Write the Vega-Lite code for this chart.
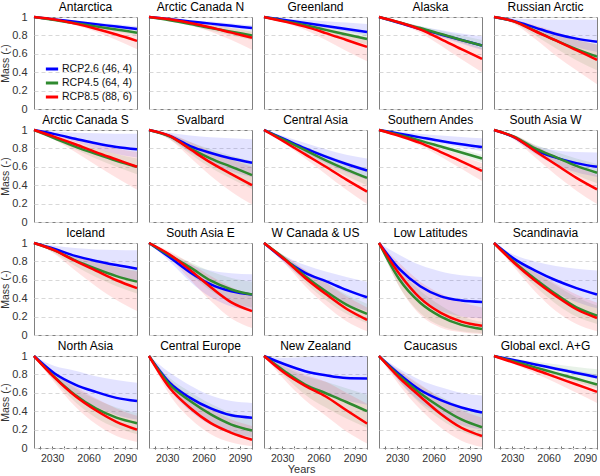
{
"$schema": "https://vega.github.io/schema/vega-lite/v6.json",
"padding": {"left": 0, "right": 0, "top": 0, "bottom": 0},
"title": {"text": "Years", "orient": "bottom", "anchor": "middle", "fontSize": 11, "fontWeight": "normal", "color": "#333", "font": "Liberation Sans", "offset": 0},
"data": {"values": [
{"r":"Antarctica","s":"RCP2.6 (46, 4)","y":2015,"m":1,"l":1,"h":1},
{"r":"Antarctica","s":"RCP2.6 (46, 4)","y":2032,"m":0.974,"l":0.97,"h":0.98},
{"r":"Antarctica","s":"RCP2.6 (46, 4)","y":2049,"m":0.948,"l":0.94,"h":0.96},
{"r":"Antarctica","s":"RCP2.6 (46, 4)","y":2066,"m":0.922,"l":0.91,"h":0.94},
{"r":"Antarctica","s":"RCP2.6 (46, 4)","y":2083,"m":0.896,"l":0.88,"h":0.92},
{"r":"Antarctica","s":"RCP2.6 (46, 4)","y":2100,"m":0.87,"l":0.85,"h":0.90},
{"r":"Antarctica","s":"RCP4.5 (64, 4)","y":2015,"m":1,"l":1,"h":1},
{"r":"Antarctica","s":"RCP4.5 (64, 4)","y":2032,"m":0.966,"l":0.96,"h":0.97},
{"r":"Antarctica","s":"RCP4.5 (64, 4)","y":2049,"m":0.932,"l":0.92,"h":0.94},
{"r":"Antarctica","s":"RCP4.5 (64, 4)","y":2066,"m":0.898,"l":0.88,"h":0.91},
{"r":"Antarctica","s":"RCP4.5 (64, 4)","y":2083,"m":0.864,"l":0.84,"h":0.89},
{"r":"Antarctica","s":"RCP4.5 (64, 4)","y":2100,"m":0.83,"l":0.80,"h":0.86},
{"r":"Antarctica","s":"RCP8.5 (88, 6)","y":2015,"m":1,"l":1,"h":1},
{"r":"Antarctica","s":"RCP8.5 (88, 6)","y":2032,"m":0.973,"l":0.965,"h":0.98},
{"r":"Antarctica","s":"RCP8.5 (88, 6)","y":2049,"m":0.928,"l":0.91,"h":0.945},
{"r":"Antarctica","s":"RCP8.5 (88, 6)","y":2066,"m":0.873,"l":0.84,"h":0.905},
{"r":"Antarctica","s":"RCP8.5 (88, 6)","y":2083,"m":0.81,"l":0.75,"h":0.86},
{"r":"Antarctica","s":"RCP8.5 (88, 6)","y":2100,"m":0.74,"l":0.65,"h":0.81},

{"r":"Arctic Canada N","s":"RCP2.6 (46, 4)","y":2015,"m":1,"l":1,"h":1},
{"r":"Arctic Canada N","s":"RCP2.6 (46, 4)","y":2032,"m":0.976,"l":0.97,"h":0.985},
{"r":"Arctic Canada N","s":"RCP2.6 (46, 4)","y":2049,"m":0.952,"l":0.94,"h":0.965},
{"r":"Arctic Canada N","s":"RCP2.6 (46, 4)","y":2066,"m":0.928,"l":0.91,"h":0.95},
{"r":"Arctic Canada N","s":"RCP2.6 (46, 4)","y":2083,"m":0.904,"l":0.88,"h":0.93},
{"r":"Arctic Canada N","s":"RCP2.6 (46, 4)","y":2100,"m":0.88,"l":0.85,"h":0.91},
{"r":"Arctic Canada N","s":"RCP4.5 (64, 4)","y":2015,"m":1,"l":1,"h":1},
{"r":"Arctic Canada N","s":"RCP4.5 (64, 4)","y":2032,"m":0.965,"l":0.955,"h":0.975},
{"r":"Arctic Canada N","s":"RCP4.5 (64, 4)","y":2049,"m":0.925,"l":0.905,"h":0.945},
{"r":"Arctic Canada N","s":"RCP4.5 (64, 4)","y":2066,"m":0.88,"l":0.85,"h":0.915},
{"r":"Arctic Canada N","s":"RCP4.5 (64, 4)","y":2083,"m":0.84,"l":0.80,"h":0.88},
{"r":"Arctic Canada N","s":"RCP4.5 (64, 4)","y":2100,"m":0.80,"l":0.75,"h":0.85},
{"r":"Arctic Canada N","s":"RCP8.5 (88, 6)","y":2015,"m":1,"l":1,"h":1},
{"r":"Arctic Canada N","s":"RCP8.5 (88, 6)","y":2032,"m":0.975,"l":0.965,"h":0.985},
{"r":"Arctic Canada N","s":"RCP8.5 (88, 6)","y":2049,"m":0.935,"l":0.91,"h":0.955},
{"r":"Arctic Canada N","s":"RCP8.5 (88, 6)","y":2066,"m":0.885,"l":0.84,"h":0.92},
{"r":"Arctic Canada N","s":"RCP8.5 (88, 6)","y":2083,"m":0.83,"l":0.75,"h":0.88},
{"r":"Arctic Canada N","s":"RCP8.5 (88, 6)","y":2100,"m":0.775,"l":0.645,"h":0.84},

{"r":"Greenland","s":"RCP2.6 (46, 4)","y":2015,"m":1,"l":1,"h":1},
{"r":"Greenland","s":"RCP2.6 (46, 4)","y":2032,"m":0.967,"l":0.96,"h":0.985},
{"r":"Greenland","s":"RCP2.6 (46, 4)","y":2049,"m":0.935,"l":0.92,"h":0.97},
{"r":"Greenland","s":"RCP2.6 (46, 4)","y":2066,"m":0.902,"l":0.88,"h":0.955},
{"r":"Greenland","s":"RCP2.6 (46, 4)","y":2083,"m":0.87,"l":0.84,"h":0.94},
{"r":"Greenland","s":"RCP2.6 (46, 4)","y":2100,"m":0.837,"l":0.80,"h":0.925},
{"r":"Greenland","s":"RCP4.5 (64, 4)","y":2015,"m":1,"l":1,"h":1},
{"r":"Greenland","s":"RCP4.5 (64, 4)","y":2032,"m":0.955,"l":0.945,"h":0.965},
{"r":"Greenland","s":"RCP4.5 (64, 4)","y":2049,"m":0.91,"l":0.885,"h":0.93},
{"r":"Greenland","s":"RCP4.5 (64, 4)","y":2066,"m":0.86,"l":0.825,"h":0.895},
{"r":"Greenland","s":"RCP4.5 (64, 4)","y":2083,"m":0.81,"l":0.76,"h":0.86},
{"r":"Greenland","s":"RCP4.5 (64, 4)","y":2100,"m":0.76,"l":0.70,"h":0.82},
{"r":"Greenland","s":"RCP8.5 (88, 6)","y":2015,"m":1,"l":1,"h":1},
{"r":"Greenland","s":"RCP8.5 (88, 6)","y":2032,"m":0.95,"l":0.935,"h":0.965},
{"r":"Greenland","s":"RCP8.5 (88, 6)","y":2049,"m":0.895,"l":0.86,"h":0.925},
{"r":"Greenland","s":"RCP8.5 (88, 6)","y":2066,"m":0.825,"l":0.75,"h":0.88},
{"r":"Greenland","s":"RCP8.5 (88, 6)","y":2083,"m":0.75,"l":0.63,"h":0.83},
{"r":"Greenland","s":"RCP8.5 (88, 6)","y":2100,"m":0.675,"l":0.52,"h":0.78},

{"r":"Alaska","s":"RCP2.6 (46, 4)","y":2015,"m":1,"l":1,"h":1},
{"r":"Alaska","s":"RCP2.6 (46, 4)","y":2032,"m":0.935,"l":0.925,"h":0.95},
{"r":"Alaska","s":"RCP2.6 (46, 4)","y":2049,"m":0.87,"l":0.85,"h":0.90},
{"r":"Alaska","s":"RCP2.6 (46, 4)","y":2066,"m":0.81,"l":0.78,"h":0.86},
{"r":"Alaska","s":"RCP2.6 (46, 4)","y":2083,"m":0.75,"l":0.71,"h":0.82},
{"r":"Alaska","s":"RCP2.6 (46, 4)","y":2100,"m":0.69,"l":0.64,"h":0.79},
{"r":"Alaska","s":"RCP4.5 (64, 4)","y":2015,"m":1,"l":1,"h":1},
{"r":"Alaska","s":"RCP4.5 (64, 4)","y":2032,"m":0.94,"l":0.93,"h":0.95},
{"r":"Alaska","s":"RCP4.5 (64, 4)","y":2049,"m":0.88,"l":0.86,"h":0.90},
{"r":"Alaska","s":"RCP4.5 (64, 4)","y":2066,"m":0.815,"l":0.79,"h":0.85},
{"r":"Alaska","s":"RCP4.5 (64, 4)","y":2083,"m":0.75,"l":0.72,"h":0.80},
{"r":"Alaska","s":"RCP4.5 (64, 4)","y":2100,"m":0.69,"l":0.65,"h":0.75},
{"r":"Alaska","s":"RCP8.5 (88, 6)","y":2015,"m":1,"l":1,"h":1},
{"r":"Alaska","s":"RCP8.5 (88, 6)","y":2032,"m":0.94,"l":0.925,"h":0.955},
{"r":"Alaska","s":"RCP8.5 (88, 6)","y":2049,"m":0.865,"l":0.83,"h":0.895},
{"r":"Alaska","s":"RCP8.5 (88, 6)","y":2066,"m":0.76,"l":0.69,"h":0.82},
{"r":"Alaska","s":"RCP8.5 (88, 6)","y":2083,"m":0.65,"l":0.54,"h":0.74},
{"r":"Alaska","s":"RCP8.5 (88, 6)","y":2100,"m":0.545,"l":0.40,"h":0.66},

{"r":"Russian Arctic","s":"RCP2.6 (46, 4)","y":2015,"m":1,"l":1,"h":1},
{"r":"Russian Arctic","s":"RCP2.6 (46, 4)","y":2032,"m":0.955,"l":0.94,"h":0.985},
{"r":"Russian Arctic","s":"RCP2.6 (46, 4)","y":2049,"m":0.885,"l":0.84,"h":0.975},
{"r":"Russian Arctic","s":"RCP2.6 (46, 4)","y":2066,"m":0.815,"l":0.74,"h":0.97},
{"r":"Russian Arctic","s":"RCP2.6 (46, 4)","y":2083,"m":0.765,"l":0.67,"h":0.97},
{"r":"Russian Arctic","s":"RCP2.6 (46, 4)","y":2100,"m":0.73,"l":0.62,"h":0.97},
{"r":"Russian Arctic","s":"RCP4.5 (64, 4)","y":2015,"m":1,"l":1,"h":1},
{"r":"Russian Arctic","s":"RCP4.5 (64, 4)","y":2032,"m":0.95,"l":0.93,"h":0.965},
{"r":"Russian Arctic","s":"RCP4.5 (64, 4)","y":2049,"m":0.85,"l":0.80,"h":0.90},
{"r":"Russian Arctic","s":"RCP4.5 (64, 4)","y":2066,"m":0.745,"l":0.66,"h":0.82},
{"r":"Russian Arctic","s":"RCP4.5 (64, 4)","y":2083,"m":0.65,"l":0.53,"h":0.75},
{"r":"Russian Arctic","s":"RCP4.5 (64, 4)","y":2100,"m":0.57,"l":0.42,"h":0.70},
{"r":"Russian Arctic","s":"RCP8.5 (88, 6)","y":2015,"m":1,"l":1,"h":1},
{"r":"Russian Arctic","s":"RCP8.5 (88, 6)","y":2032,"m":0.95,"l":0.92,"h":0.97},
{"r":"Russian Arctic","s":"RCP8.5 (88, 6)","y":2049,"m":0.845,"l":0.76,"h":0.91},
{"r":"Russian Arctic","s":"RCP8.5 (88, 6)","y":2066,"m":0.745,"l":0.58,"h":0.84},
{"r":"Russian Arctic","s":"RCP8.5 (88, 6)","y":2083,"m":0.64,"l":0.42,"h":0.76},
{"r":"Russian Arctic","s":"RCP8.5 (88, 6)","y":2100,"m":0.535,"l":0.27,"h":0.70},

{"r":"Arctic Canada S","s":"RCP2.6 (46, 4)","y":2015,"m":1,"l":1,"h":1},
{"r":"Arctic Canada S","s":"RCP2.6 (46, 4)","y":2032,"m":0.955,"l":0.94,"h":0.985},
{"r":"Arctic Canada S","s":"RCP2.6 (46, 4)","y":2049,"m":0.905,"l":0.87,"h":0.97},
{"r":"Arctic Canada S","s":"RCP2.6 (46, 4)","y":2066,"m":0.855,"l":0.80,"h":0.965},
{"r":"Arctic Canada S","s":"RCP2.6 (46, 4)","y":2083,"m":0.815,"l":0.74,"h":0.96},
{"r":"Arctic Canada S","s":"RCP2.6 (46, 4)","y":2100,"m":0.79,"l":0.70,"h":0.96},
{"r":"Arctic Canada S","s":"RCP4.5 (64, 4)","y":2015,"m":1,"l":1,"h":1},
{"r":"Arctic Canada S","s":"RCP4.5 (64, 4)","y":2032,"m":0.91,"l":0.895,"h":0.93},
{"r":"Arctic Canada S","s":"RCP4.5 (64, 4)","y":2049,"m":0.82,"l":0.79,"h":0.86},
{"r":"Arctic Canada S","s":"RCP4.5 (64, 4)","y":2066,"m":0.74,"l":0.69,"h":0.80},
{"r":"Arctic Canada S","s":"RCP4.5 (64, 4)","y":2083,"m":0.665,"l":0.60,"h":0.74},
{"r":"Arctic Canada S","s":"RCP4.5 (64, 4)","y":2100,"m":0.60,"l":0.52,"h":0.69},
{"r":"Arctic Canada S","s":"RCP8.5 (88, 6)","y":2015,"m":1,"l":1,"h":1},
{"r":"Arctic Canada S","s":"RCP8.5 (88, 6)","y":2032,"m":0.925,"l":0.89,"h":0.95},
{"r":"Arctic Canada S","s":"RCP8.5 (88, 6)","y":2049,"m":0.845,"l":0.76,"h":0.90},
{"r":"Arctic Canada S","s":"RCP8.5 (88, 6)","y":2066,"m":0.76,"l":0.62,"h":0.85},
{"r":"Arctic Canada S","s":"RCP8.5 (88, 6)","y":2083,"m":0.68,"l":0.48,"h":0.80},
{"r":"Arctic Canada S","s":"RCP8.5 (88, 6)","y":2100,"m":0.60,"l":0.35,"h":0.76},

{"r":"Svalbard","s":"RCP2.6 (46, 4)","y":2015,"m":1,"l":1,"h":1},
{"r":"Svalbard","s":"RCP2.6 (46, 4)","y":2032,"m":0.935,"l":0.91,"h":0.97},
{"r":"Svalbard","s":"RCP2.6 (46, 4)","y":2049,"m":0.825,"l":0.76,"h":0.94},
{"r":"Svalbard","s":"RCP2.6 (46, 4)","y":2066,"m":0.75,"l":0.64,"h":0.92},
{"r":"Svalbard","s":"RCP2.6 (46, 4)","y":2083,"m":0.69,"l":0.55,"h":0.91},
{"r":"Svalbard","s":"RCP2.6 (46, 4)","y":2100,"m":0.645,"l":0.49,"h":0.90},
{"r":"Svalbard","s":"RCP4.5 (64, 4)","y":2015,"m":1,"l":1,"h":1},
{"r":"Svalbard","s":"RCP4.5 (64, 4)","y":2032,"m":0.93,"l":0.90,"h":0.955},
{"r":"Svalbard","s":"RCP4.5 (64, 4)","y":2049,"m":0.80,"l":0.74,"h":0.87},
{"r":"Svalbard","s":"RCP4.5 (64, 4)","y":2066,"m":0.69,"l":0.59,"h":0.79},
{"r":"Svalbard","s":"RCP4.5 (64, 4)","y":2083,"m":0.60,"l":0.47,"h":0.72},
{"r":"Svalbard","s":"RCP4.5 (64, 4)","y":2100,"m":0.51,"l":0.36,"h":0.66},
{"r":"Svalbard","s":"RCP8.5 (88, 6)","y":2015,"m":1,"l":1,"h":1},
{"r":"Svalbard","s":"RCP8.5 (88, 6)","y":2032,"m":0.935,"l":0.90,"h":0.96},
{"r":"Svalbard","s":"RCP8.5 (88, 6)","y":2049,"m":0.79,"l":0.70,"h":0.87},
{"r":"Svalbard","s":"RCP8.5 (88, 6)","y":2066,"m":0.645,"l":0.50,"h":0.77},
{"r":"Svalbard","s":"RCP8.5 (88, 6)","y":2083,"m":0.52,"l":0.33,"h":0.68},
{"r":"Svalbard","s":"RCP8.5 (88, 6)","y":2100,"m":0.40,"l":0.19,"h":0.60},

{"r":"Central Asia","s":"RCP2.6 (46, 4)","y":2015,"m":1,"l":1,"h":1},
{"r":"Central Asia","s":"RCP2.6 (46, 4)","y":2032,"m":0.90,"l":0.88,"h":0.93},
{"r":"Central Asia","s":"RCP2.6 (46, 4)","y":2049,"m":0.80,"l":0.75,"h":0.86},
{"r":"Central Asia","s":"RCP2.6 (46, 4)","y":2066,"m":0.71,"l":0.64,"h":0.79},
{"r":"Central Asia","s":"RCP2.6 (46, 4)","y":2083,"m":0.63,"l":0.54,"h":0.73},
{"r":"Central Asia","s":"RCP2.6 (46, 4)","y":2100,"m":0.56,"l":0.46,"h":0.69},
{"r":"Central Asia","s":"RCP4.5 (64, 4)","y":2015,"m":1,"l":1,"h":1},
{"r":"Central Asia","s":"RCP4.5 (64, 4)","y":2032,"m":0.89,"l":0.87,"h":0.91},
{"r":"Central Asia","s":"RCP4.5 (64, 4)","y":2049,"m":0.78,"l":0.74,"h":0.82},
{"r":"Central Asia","s":"RCP4.5 (64, 4)","y":2066,"m":0.67,"l":0.61,"h":0.73},
{"r":"Central Asia","s":"RCP4.5 (64, 4)","y":2083,"m":0.57,"l":0.50,"h":0.65},
{"r":"Central Asia","s":"RCP4.5 (64, 4)","y":2100,"m":0.48,"l":0.40,"h":0.58},
{"r":"Central Asia","s":"RCP8.5 (88, 6)","y":2015,"m":1,"l":1,"h":1},
{"r":"Central Asia","s":"RCP8.5 (88, 6)","y":2032,"m":0.87,"l":0.85,"h":0.90},
{"r":"Central Asia","s":"RCP8.5 (88, 6)","y":2049,"m":0.735,"l":0.69,"h":0.79},
{"r":"Central Asia","s":"RCP8.5 (88, 6)","y":2066,"m":0.60,"l":0.52,"h":0.68},
{"r":"Central Asia","s":"RCP8.5 (88, 6)","y":2083,"m":0.46,"l":0.35,"h":0.57},
{"r":"Central Asia","s":"RCP8.5 (88, 6)","y":2100,"m":0.33,"l":0.195,"h":0.47},

{"r":"Southern Andes","s":"RCP2.6 (46, 4)","y":2015,"m":1,"l":1,"h":1},
{"r":"Southern Andes","s":"RCP2.6 (46, 4)","y":2032,"m":0.96,"l":0.95,"h":0.98},
{"r":"Southern Andes","s":"RCP2.6 (46, 4)","y":2049,"m":0.92,"l":0.90,"h":0.96},
{"r":"Southern Andes","s":"RCP2.6 (46, 4)","y":2066,"m":0.88,"l":0.85,"h":0.94},
{"r":"Southern Andes","s":"RCP2.6 (46, 4)","y":2083,"m":0.845,"l":0.81,"h":0.925},
{"r":"Southern Andes","s":"RCP2.6 (46, 4)","y":2100,"m":0.815,"l":0.77,"h":0.91},
{"r":"Southern Andes","s":"RCP4.5 (64, 4)","y":2015,"m":1,"l":1,"h":1},
{"r":"Southern Andes","s":"RCP4.5 (64, 4)","y":2032,"m":0.945,"l":0.935,"h":0.955},
{"r":"Southern Andes","s":"RCP4.5 (64, 4)","y":2049,"m":0.885,"l":0.86,"h":0.905},
{"r":"Southern Andes","s":"RCP4.5 (64, 4)","y":2066,"m":0.82,"l":0.79,"h":0.85},
{"r":"Southern Andes","s":"RCP4.5 (64, 4)","y":2083,"m":0.755,"l":0.72,"h":0.79},
{"r":"Southern Andes","s":"RCP4.5 (64, 4)","y":2100,"m":0.69,"l":0.65,"h":0.73},
{"r":"Southern Andes","s":"RCP8.5 (88, 6)","y":2015,"m":1,"l":1,"h":1},
{"r":"Southern Andes","s":"RCP8.5 (88, 6)","y":2032,"m":0.935,"l":0.925,"h":0.95},
{"r":"Southern Andes","s":"RCP8.5 (88, 6)","y":2049,"m":0.86,"l":0.83,"h":0.885},
{"r":"Southern Andes","s":"RCP8.5 (88, 6)","y":2066,"m":0.76,"l":0.71,"h":0.80},
{"r":"Southern Andes","s":"RCP8.5 (88, 6)","y":2083,"m":0.66,"l":0.58,"h":0.72},
{"r":"Southern Andes","s":"RCP8.5 (88, 6)","y":2100,"m":0.555,"l":0.445,"h":0.64},

{"r":"South Asia W","s":"RCP2.6 (46, 4)","y":2015,"m":1,"l":1,"h":1},
{"r":"South Asia W","s":"RCP2.6 (46, 4)","y":2032,"m":0.92,"l":0.90,"h":0.94},
{"r":"South Asia W","s":"RCP2.6 (46, 4)","y":2049,"m":0.78,"l":0.74,"h":0.83},
{"r":"South Asia W","s":"RCP2.6 (46, 4)","y":2066,"m":0.70,"l":0.62,"h":0.78},
{"r":"South Asia W","s":"RCP2.6 (46, 4)","y":2083,"m":0.64,"l":0.54,"h":0.76},
{"r":"South Asia W","s":"RCP2.6 (46, 4)","y":2100,"m":0.60,"l":0.49,"h":0.755},
{"r":"South Asia W","s":"RCP4.5 (64, 4)","y":2015,"m":1,"l":1,"h":1},
{"r":"South Asia W","s":"RCP4.5 (64, 4)","y":2032,"m":0.925,"l":0.90,"h":0.94},
{"r":"South Asia W","s":"RCP4.5 (64, 4)","y":2049,"m":0.80,"l":0.76,"h":0.84},
{"r":"South Asia W","s":"RCP4.5 (64, 4)","y":2066,"m":0.705,"l":0.63,"h":0.76},
{"r":"South Asia W","s":"RCP4.5 (64, 4)","y":2083,"m":0.61,"l":0.51,"h":0.69},
{"r":"South Asia W","s":"RCP4.5 (64, 4)","y":2100,"m":0.535,"l":0.42,"h":0.63},
{"r":"South Asia W","s":"RCP8.5 (88, 6)","y":2015,"m":1,"l":1,"h":1},
{"r":"South Asia W","s":"RCP8.5 (88, 6)","y":2032,"m":0.92,"l":0.89,"h":0.945},
{"r":"South Asia W","s":"RCP8.5 (88, 6)","y":2049,"m":0.77,"l":0.70,"h":0.83},
{"r":"South Asia W","s":"RCP8.5 (88, 6)","y":2066,"m":0.625,"l":0.51,"h":0.72},
{"r":"South Asia W","s":"RCP8.5 (88, 6)","y":2083,"m":0.48,"l":0.34,"h":0.61},
{"r":"South Asia W","s":"RCP8.5 (88, 6)","y":2100,"m":0.355,"l":0.195,"h":0.51},

{"r":"Iceland","s":"RCP2.6 (46, 4)","y":2015,"m":1,"l":1,"h":1},
{"r":"Iceland","s":"RCP2.6 (46, 4)","y":2032,"m":0.935,"l":0.91,"h":0.97},
{"r":"Iceland","s":"RCP2.6 (46, 4)","y":2049,"m":0.86,"l":0.80,"h":0.945},
{"r":"Iceland","s":"RCP2.6 (46, 4)","y":2066,"m":0.805,"l":0.71,"h":0.93},
{"r":"Iceland","s":"RCP2.6 (46, 4)","y":2083,"m":0.76,"l":0.64,"h":0.925},
{"r":"Iceland","s":"RCP2.6 (46, 4)","y":2100,"m":0.72,"l":0.59,"h":0.92},
{"r":"Iceland","s":"RCP4.5 (64, 4)","y":2015,"m":1,"l":1,"h":1},
{"r":"Iceland","s":"RCP4.5 (64, 4)","y":2032,"m":0.92,"l":0.89,"h":0.94},
{"r":"Iceland","s":"RCP4.5 (64, 4)","y":2049,"m":0.81,"l":0.75,"h":0.86},
{"r":"Iceland","s":"RCP4.5 (64, 4)","y":2066,"m":0.72,"l":0.63,"h":0.79},
{"r":"Iceland","s":"RCP4.5 (64, 4)","y":2083,"m":0.64,"l":0.53,"h":0.74},
{"r":"Iceland","s":"RCP4.5 (64, 4)","y":2100,"m":0.58,"l":0.45,"h":0.70},
{"r":"Iceland","s":"RCP8.5 (88, 6)","y":2015,"m":1,"l":1,"h":1},
{"r":"Iceland","s":"RCP8.5 (88, 6)","y":2032,"m":0.92,"l":0.88,"h":0.95},
{"r":"Iceland","s":"RCP8.5 (88, 6)","y":2049,"m":0.805,"l":0.70,"h":0.87},
{"r":"Iceland","s":"RCP8.5 (88, 6)","y":2066,"m":0.70,"l":0.53,"h":0.80},
{"r":"Iceland","s":"RCP8.5 (88, 6)","y":2083,"m":0.595,"l":0.38,"h":0.74},
{"r":"Iceland","s":"RCP8.5 (88, 6)","y":2100,"m":0.51,"l":0.26,"h":0.69},

{"r":"South Asia E","s":"RCP2.6 (46, 4)","y":2015,"m":1,"l":1,"h":1},
{"r":"South Asia E","s":"RCP2.6 (46, 4)","y":2032,"m":0.845,"l":0.80,"h":0.88},
{"r":"South Asia E","s":"RCP2.6 (46, 4)","y":2049,"m":0.68,"l":0.58,"h":0.77},
{"r":"South Asia E","s":"RCP2.6 (46, 4)","y":2066,"m":0.55,"l":0.41,"h":0.70},
{"r":"South Asia E","s":"RCP2.6 (46, 4)","y":2083,"m":0.475,"l":0.31,"h":0.67},
{"r":"South Asia E","s":"RCP2.6 (46, 4)","y":2100,"m":0.44,"l":0.26,"h":0.66},
{"r":"South Asia E","s":"RCP4.5 (64, 4)","y":2015,"m":1,"l":1,"h":1},
{"r":"South Asia E","s":"RCP4.5 (64, 4)","y":2032,"m":0.865,"l":0.83,"h":0.89},
{"r":"South Asia E","s":"RCP4.5 (64, 4)","y":2049,"m":0.735,"l":0.66,"h":0.79},
{"r":"South Asia E","s":"RCP4.5 (64, 4)","y":2066,"m":0.59,"l":0.48,"h":0.69},
{"r":"South Asia E","s":"RCP4.5 (64, 4)","y":2083,"m":0.495,"l":0.36,"h":0.62},
{"r":"South Asia E","s":"RCP4.5 (64, 4)","y":2100,"m":0.44,"l":0.30,"h":0.58},
{"r":"South Asia E","s":"RCP8.5 (88, 6)","y":2015,"m":1,"l":1,"h":1},
{"r":"South Asia E","s":"RCP8.5 (88, 6)","y":2032,"m":0.875,"l":0.84,"h":0.91},
{"r":"South Asia E","s":"RCP8.5 (88, 6)","y":2049,"m":0.705,"l":0.60,"h":0.78},
{"r":"South Asia E","s":"RCP8.5 (88, 6)","y":2066,"m":0.52,"l":0.37,"h":0.64},
{"r":"South Asia E","s":"RCP8.5 (88, 6)","y":2083,"m":0.355,"l":0.18,"h":0.52},
{"r":"South Asia E","s":"RCP8.5 (88, 6)","y":2100,"m":0.26,"l":0.075,"h":0.44},

{"r":"W Canada & US","s":"RCP2.6 (46, 4)","y":2015,"m":1,"l":1,"h":1},
{"r":"W Canada & US","s":"RCP2.6 (46, 4)","y":2032,"m":0.82,"l":0.78,"h":0.86},
{"r":"W Canada & US","s":"RCP2.6 (46, 4)","y":2049,"m":0.675,"l":0.60,"h":0.76},
{"r":"W Canada & US","s":"RCP2.6 (46, 4)","y":2066,"m":0.585,"l":0.46,"h":0.69},
{"r":"W Canada & US","s":"RCP2.6 (46, 4)","y":2083,"m":0.49,"l":0.34,"h":0.63},
{"r":"W Canada & US","s":"RCP2.6 (46, 4)","y":2100,"m":0.41,"l":0.26,"h":0.58},
{"r":"W Canada & US","s":"RCP4.5 (64, 4)","y":2015,"m":1,"l":1,"h":1},
{"r":"W Canada & US","s":"RCP4.5 (64, 4)","y":2032,"m":0.83,"l":0.80,"h":0.86},
{"r":"W Canada & US","s":"RCP4.5 (64, 4)","y":2049,"m":0.64,"l":0.57,"h":0.70},
{"r":"W Canada & US","s":"RCP4.5 (64, 4)","y":2066,"m":0.475,"l":0.38,"h":0.57},
{"r":"W Canada & US","s":"RCP4.5 (64, 4)","y":2083,"m":0.33,"l":0.23,"h":0.44},
{"r":"W Canada & US","s":"RCP4.5 (64, 4)","y":2100,"m":0.23,"l":0.13,"h":0.34},
{"r":"W Canada & US","s":"RCP8.5 (88, 6)","y":2015,"m":1,"l":1,"h":1},
{"r":"W Canada & US","s":"RCP8.5 (88, 6)","y":2032,"m":0.82,"l":0.78,"h":0.86},
{"r":"W Canada & US","s":"RCP8.5 (88, 6)","y":2049,"m":0.62,"l":0.53,"h":0.71},
{"r":"W Canada & US","s":"RCP8.5 (88, 6)","y":2066,"m":0.445,"l":0.32,"h":0.57},
{"r":"W Canada & US","s":"RCP8.5 (88, 6)","y":2083,"m":0.285,"l":0.15,"h":0.42},
{"r":"W Canada & US","s":"RCP8.5 (88, 6)","y":2100,"m":0.165,"l":0.04,"h":0.30},

{"r":"Low Latitudes","s":"RCP2.6 (46, 4)","y":2015,"m":1,"l":1,"h":1},
{"r":"Low Latitudes","s":"RCP2.6 (46, 4)","y":2032,"m":0.715,"l":0.60,"h":0.87},
{"r":"Low Latitudes","s":"RCP2.6 (46, 4)","y":2049,"m":0.53,"l":0.38,"h":0.76},
{"r":"Low Latitudes","s":"RCP2.6 (46, 4)","y":2066,"m":0.42,"l":0.26,"h":0.69},
{"r":"Low Latitudes","s":"RCP2.6 (46, 4)","y":2083,"m":0.375,"l":0.20,"h":0.65},
{"r":"Low Latitudes","s":"RCP2.6 (46, 4)","y":2100,"m":0.36,"l":0.18,"h":0.63},
{"r":"Low Latitudes","s":"RCP4.5 (64, 4)","y":2015,"m":1,"l":1,"h":1},
{"r":"Low Latitudes","s":"RCP4.5 (64, 4)","y":2032,"m":0.60,"l":0.52,"h":0.70},
{"r":"Low Latitudes","s":"RCP4.5 (64, 4)","y":2049,"m":0.35,"l":0.24,"h":0.48},
{"r":"Low Latitudes","s":"RCP4.5 (64, 4)","y":2066,"m":0.20,"l":0.10,"h":0.32},
{"r":"Low Latitudes","s":"RCP4.5 (64, 4)","y":2083,"m":0.11,"l":0.04,"h":0.20},
{"r":"Low Latitudes","s":"RCP4.5 (64, 4)","y":2100,"m":0.065,"l":0.02,"h":0.14},
{"r":"Low Latitudes","s":"RCP8.5 (88, 6)","y":2015,"m":1,"l":1,"h":1},
{"r":"Low Latitudes","s":"RCP8.5 (88, 6)","y":2032,"m":0.66,"l":0.52,"h":0.78},
{"r":"Low Latitudes","s":"RCP8.5 (88, 6)","y":2049,"m":0.40,"l":0.22,"h":0.58},
{"r":"Low Latitudes","s":"RCP8.5 (88, 6)","y":2066,"m":0.24,"l":0.08,"h":0.45},
{"r":"Low Latitudes","s":"RCP8.5 (88, 6)","y":2083,"m":0.145,"l":0.03,"h":0.36},
{"r":"Low Latitudes","s":"RCP8.5 (88, 6)","y":2100,"m":0.10,"l":0.01,"h":0.30},

{"r":"Scandinavia","s":"RCP2.6 (46, 4)","y":2015,"m":1,"l":1,"h":1},
{"r":"Scandinavia","s":"RCP2.6 (46, 4)","y":2032,"m":0.825,"l":0.78,"h":0.87},
{"r":"Scandinavia","s":"RCP2.6 (46, 4)","y":2049,"m":0.70,"l":0.60,"h":0.80},
{"r":"Scandinavia","s":"RCP2.6 (46, 4)","y":2066,"m":0.595,"l":0.46,"h":0.75},
{"r":"Scandinavia","s":"RCP2.6 (46, 4)","y":2083,"m":0.51,"l":0.36,"h":0.72},
{"r":"Scandinavia","s":"RCP2.6 (46, 4)","y":2100,"m":0.44,"l":0.29,"h":0.70},
{"r":"Scandinavia","s":"RCP4.5 (64, 4)","y":2015,"m":1,"l":1,"h":1},
{"r":"Scandinavia","s":"RCP4.5 (64, 4)","y":2032,"m":0.79,"l":0.75,"h":0.83},
{"r":"Scandinavia","s":"RCP4.5 (64, 4)","y":2049,"m":0.61,"l":0.53,"h":0.68},
{"r":"Scandinavia","s":"RCP4.5 (64, 4)","y":2066,"m":0.445,"l":0.34,"h":0.54},
{"r":"Scandinavia","s":"RCP4.5 (64, 4)","y":2083,"m":0.30,"l":0.20,"h":0.41},
{"r":"Scandinavia","s":"RCP4.5 (64, 4)","y":2100,"m":0.21,"l":0.12,"h":0.32},
{"r":"Scandinavia","s":"RCP8.5 (88, 6)","y":2015,"m":1,"l":1,"h":1},
{"r":"Scandinavia","s":"RCP8.5 (88, 6)","y":2032,"m":0.78,"l":0.73,"h":0.83},
{"r":"Scandinavia","s":"RCP8.5 (88, 6)","y":2049,"m":0.59,"l":0.47,"h":0.69},
{"r":"Scandinavia","s":"RCP8.5 (88, 6)","y":2066,"m":0.425,"l":0.26,"h":0.56},
{"r":"Scandinavia","s":"RCP8.5 (88, 6)","y":2083,"m":0.28,"l":0.12,"h":0.44},
{"r":"Scandinavia","s":"RCP8.5 (88, 6)","y":2100,"m":0.185,"l":0.04,"h":0.35},

{"r":"North Asia","s":"RCP2.6 (46, 4)","y":2015,"m":1,"l":1,"h":1},
{"r":"North Asia","s":"RCP2.6 (46, 4)","y":2032,"m":0.81,"l":0.76,"h":0.89},
{"r":"North Asia","s":"RCP2.6 (46, 4)","y":2049,"m":0.69,"l":0.58,"h":0.84},
{"r":"North Asia","s":"RCP2.6 (46, 4)","y":2066,"m":0.61,"l":0.45,"h":0.78},
{"r":"North Asia","s":"RCP2.6 (46, 4)","y":2083,"m":0.545,"l":0.36,"h":0.74},
{"r":"North Asia","s":"RCP2.6 (46, 4)","y":2100,"m":0.51,"l":0.31,"h":0.71},
{"r":"North Asia","s":"RCP4.5 (64, 4)","y":2015,"m":1,"l":1,"h":1},
{"r":"North Asia","s":"RCP4.5 (64, 4)","y":2032,"m":0.77,"l":0.73,"h":0.81},
{"r":"North Asia","s":"RCP4.5 (64, 4)","y":2049,"m":0.575,"l":0.50,"h":0.65},
{"r":"North Asia","s":"RCP4.5 (64, 4)","y":2066,"m":0.43,"l":0.33,"h":0.53},
{"r":"North Asia","s":"RCP4.5 (64, 4)","y":2083,"m":0.33,"l":0.22,"h":0.44},
{"r":"North Asia","s":"RCP4.5 (64, 4)","y":2100,"m":0.27,"l":0.15,"h":0.38},
{"r":"North Asia","s":"RCP8.5 (88, 6)","y":2015,"m":1,"l":1,"h":1},
{"r":"North Asia","s":"RCP8.5 (88, 6)","y":2032,"m":0.765,"l":0.71,"h":0.83},
{"r":"North Asia","s":"RCP8.5 (88, 6)","y":2049,"m":0.565,"l":0.45,"h":0.67},
{"r":"North Asia","s":"RCP8.5 (88, 6)","y":2066,"m":0.41,"l":0.26,"h":0.54},
{"r":"North Asia","s":"RCP8.5 (88, 6)","y":2083,"m":0.285,"l":0.13,"h":0.43},
{"r":"North Asia","s":"RCP8.5 (88, 6)","y":2100,"m":0.20,"l":0.065,"h":0.35},

{"r":"Central Europe","s":"RCP2.6 (46, 4)","y":2015,"m":1,"l":1,"h":1},
{"r":"Central Europe","s":"RCP2.6 (46, 4)","y":2032,"m":0.71,"l":0.63,"h":0.82},
{"r":"Central Europe","s":"RCP2.6 (46, 4)","y":2049,"m":0.545,"l":0.40,"h":0.68},
{"r":"Central Europe","s":"RCP2.6 (46, 4)","y":2066,"m":0.43,"l":0.25,"h":0.57},
{"r":"Central Europe","s":"RCP2.6 (46, 4)","y":2083,"m":0.355,"l":0.16,"h":0.51},
{"r":"Central Europe","s":"RCP2.6 (46, 4)","y":2100,"m":0.33,"l":0.12,"h":0.49},
{"r":"Central Europe","s":"RCP4.5 (64, 4)","y":2015,"m":1,"l":1,"h":1},
{"r":"Central Europe","s":"RCP4.5 (64, 4)","y":2032,"m":0.69,"l":0.64,"h":0.76},
{"r":"Central Europe","s":"RCP4.5 (64, 4)","y":2049,"m":0.51,"l":0.42,"h":0.61},
{"r":"Central Europe","s":"RCP4.5 (64, 4)","y":2066,"m":0.365,"l":0.26,"h":0.48},
{"r":"Central Europe","s":"RCP4.5 (64, 4)","y":2083,"m":0.255,"l":0.15,"h":0.38},
{"r":"Central Europe","s":"RCP4.5 (64, 4)","y":2100,"m":0.19,"l":0.09,"h":0.32},
{"r":"Central Europe","s":"RCP8.5 (88, 6)","y":2015,"m":1,"l":1,"h":1},
{"r":"Central Europe","s":"RCP8.5 (88, 6)","y":2032,"m":0.655,"l":0.58,"h":0.74},
{"r":"Central Europe","s":"RCP8.5 (88, 6)","y":2049,"m":0.435,"l":0.32,"h":0.56},
{"r":"Central Europe","s":"RCP8.5 (88, 6)","y":2066,"m":0.27,"l":0.15,"h":0.42},
{"r":"Central Europe","s":"RCP8.5 (88, 6)","y":2083,"m":0.165,"l":0.06,"h":0.31},
{"r":"Central Europe","s":"RCP8.5 (88, 6)","y":2100,"m":0.09,"l":0.02,"h":0.24},

{"r":"New Zealand","s":"RCP2.6 (46, 4)","y":2015,"m":1,"l":1,"h":1},
{"r":"New Zealand","s":"RCP2.6 (46, 4)","y":2032,"m":0.91,"l":0.83,"h":0.98},
{"r":"New Zealand","s":"RCP2.6 (46, 4)","y":2049,"m":0.835,"l":0.70,"h":0.99},
{"r":"New Zealand","s":"RCP2.6 (46, 4)","y":2066,"m":0.79,"l":0.60,"h":1},
{"r":"New Zealand","s":"RCP2.6 (46, 4)","y":2083,"m":0.76,"l":0.52,"h":1},
{"r":"New Zealand","s":"RCP2.6 (46, 4)","y":2100,"m":0.755,"l":0.47,"h":1},
{"r":"New Zealand","s":"RCP4.5 (64, 4)","y":2015,"m":1,"l":1,"h":1},
{"r":"New Zealand","s":"RCP4.5 (64, 4)","y":2032,"m":0.835,"l":0.78,"h":0.88},
{"r":"New Zealand","s":"RCP4.5 (64, 4)","y":2049,"m":0.69,"l":0.58,"h":0.78},
{"r":"New Zealand","s":"RCP4.5 (64, 4)","y":2066,"m":0.595,"l":0.44,"h":0.72},
{"r":"New Zealand","s":"RCP4.5 (64, 4)","y":2083,"m":0.50,"l":0.32,"h":0.65},
{"r":"New Zealand","s":"RCP4.5 (64, 4)","y":2100,"m":0.40,"l":0.22,"h":0.58},
{"r":"New Zealand","s":"RCP8.5 (88, 6)","y":2015,"m":1,"l":1,"h":1},
{"r":"New Zealand","s":"RCP8.5 (88, 6)","y":2032,"m":0.815,"l":0.74,"h":0.90},
{"r":"New Zealand","s":"RCP8.5 (88, 6)","y":2049,"m":0.675,"l":0.52,"h":0.80},
{"r":"New Zealand","s":"RCP8.5 (88, 6)","y":2066,"m":0.56,"l":0.35,"h":0.72},
{"r":"New Zealand","s":"RCP8.5 (88, 6)","y":2083,"m":0.41,"l":0.18,"h":0.60},
{"r":"New Zealand","s":"RCP8.5 (88, 6)","y":2100,"m":0.265,"l":0.05,"h":0.48},

{"r":"Caucasus","s":"RCP2.6 (46, 4)","y":2015,"m":1,"l":1,"h":1},
{"r":"Caucasus","s":"RCP2.6 (46, 4)","y":2032,"m":0.80,"l":0.72,"h":0.86},
{"r":"Caucasus","s":"RCP2.6 (46, 4)","y":2049,"m":0.63,"l":0.50,"h":0.74},
{"r":"Caucasus","s":"RCP2.6 (46, 4)","y":2066,"m":0.52,"l":0.36,"h":0.66},
{"r":"Caucasus","s":"RCP2.6 (46, 4)","y":2083,"m":0.44,"l":0.25,"h":0.60},
{"r":"Caucasus","s":"RCP2.6 (46, 4)","y":2100,"m":0.385,"l":0.20,"h":0.57},
{"r":"Caucasus","s":"RCP4.5 (64, 4)","y":2015,"m":1,"l":1,"h":1},
{"r":"Caucasus","s":"RCP4.5 (64, 4)","y":2032,"m":0.78,"l":0.72,"h":0.83},
{"r":"Caucasus","s":"RCP4.5 (64, 4)","y":2049,"m":0.595,"l":0.48,"h":0.68},
{"r":"Caucasus","s":"RCP4.5 (64, 4)","y":2066,"m":0.44,"l":0.31,"h":0.56},
{"r":"Caucasus","s":"RCP4.5 (64, 4)","y":2083,"m":0.31,"l":0.18,"h":0.45},
{"r":"Caucasus","s":"RCP4.5 (64, 4)","y":2100,"m":0.225,"l":0.11,"h":0.38},
{"r":"Caucasus","s":"RCP8.5 (88, 6)","y":2015,"m":1,"l":1,"h":1},
{"r":"Caucasus","s":"RCP8.5 (88, 6)","y":2032,"m":0.76,"l":0.68,"h":0.84},
{"r":"Caucasus","s":"RCP8.5 (88, 6)","y":2049,"m":0.56,"l":0.42,"h":0.69},
{"r":"Caucasus","s":"RCP8.5 (88, 6)","y":2066,"m":0.37,"l":0.22,"h":0.54},
{"r":"Caucasus","s":"RCP8.5 (88, 6)","y":2083,"m":0.22,"l":0.08,"h":0.41},
{"r":"Caucasus","s":"RCP8.5 (88, 6)","y":2100,"m":0.13,"l":0.01,"h":0.33},

{"r":"Global excl. A+G","s":"RCP2.6 (46, 4)","y":2015,"m":1,"l":1,"h":1},
{"r":"Global excl. A+G","s":"RCP2.6 (46, 4)","y":2032,"m":0.954,"l":0.95,"h":0.96},
{"r":"Global excl. A+G","s":"RCP2.6 (46, 4)","y":2049,"m":0.908,"l":0.90,"h":0.92},
{"r":"Global excl. A+G","s":"RCP2.6 (46, 4)","y":2066,"m":0.862,"l":0.85,"h":0.88},
{"r":"Global excl. A+G","s":"RCP2.6 (46, 4)","y":2083,"m":0.816,"l":0.80,"h":0.84},
{"r":"Global excl. A+G","s":"RCP2.6 (46, 4)","y":2100,"m":0.77,"l":0.75,"h":0.80},
{"r":"Global excl. A+G","s":"RCP4.5 (64, 4)","y":2015,"m":1,"l":1,"h":1},
{"r":"Global excl. A+G","s":"RCP4.5 (64, 4)","y":2032,"m":0.938,"l":0.93,"h":0.97},
{"r":"Global excl. A+G","s":"RCP4.5 (64, 4)","y":2049,"m":0.876,"l":0.86,"h":0.94},
{"r":"Global excl. A+G","s":"RCP4.5 (64, 4)","y":2066,"m":0.814,"l":0.79,"h":0.91},
{"r":"Global excl. A+G","s":"RCP4.5 (64, 4)","y":2083,"m":0.752,"l":0.72,"h":0.88},
{"r":"Global excl. A+G","s":"RCP4.5 (64, 4)","y":2100,"m":0.69,"l":0.65,"h":0.855},
{"r":"Global excl. A+G","s":"RCP8.5 (88, 6)","y":2015,"m":1,"l":1,"h":1},
{"r":"Global excl. A+G","s":"RCP8.5 (88, 6)","y":2032,"m":0.925,"l":0.91,"h":0.94},
{"r":"Global excl. A+G","s":"RCP8.5 (88, 6)","y":2049,"m":0.85,"l":0.81,"h":0.88},
{"r":"Global excl. A+G","s":"RCP8.5 (88, 6)","y":2066,"m":0.77,"l":0.71,"h":0.82},
{"r":"Global excl. A+G","s":"RCP8.5 (88, 6)","y":2083,"m":0.69,"l":0.60,"h":0.76},
{"r":"Global excl. A+G","s":"RCP8.5 (88, 6)","y":2100,"m":0.61,"l":0.49,"h":0.70}
]},
"facet": {
  "field": "r", "type": "nominal",
  "sort": ["Antarctica","Arctic Canada N","Greenland","Alaska","Russian Arctic","Arctic Canada S","Svalbard","Central Asia","Southern Andes","South Asia W","Iceland","South Asia E","W Canada & US","Low Latitudes","Scandinavia","North Asia","Central Europe","New Zealand","Caucasus","Global excl. A+G"],
  "header": {"title": null, "labelFontSize": 12, "labelFont": "Liberation Sans", "labelColor": "#000", "labelPadding": -2}
},
"columns": 5,
"spacing": {"row": 3, "column": 0},
"spec": {
  "width": 103,
  "height": 92,
  "layer": [
    {
      "mark": {"type": "area", "interpolate": "monotone", "opacity": 0.11},
      "encoding": {
        "x": {"field": "y", "type": "quantitative", "scale": {"domain": [2015, 2100], "nice": false}},
        "y": {"field": "l", "type": "quantitative", "scale": {"domain": [0, 1], "nice": false}},
        "y2": {"field": "h"},
        "fill": {"field": "s", "type": "nominal", "scale": {"domain": ["RCP8.5 (88, 6)", "RCP4.5 (64, 4)", "RCP2.6 (46, 4)"], "range": ["#ff0000", "#2f8a2f", "#0000ff"]}, "legend": null}
      }
    },
    {
      "mark": {"type": "line", "interpolate": "monotone", "strokeWidth": 2.5},
      "encoding": {
        "x": {"field": "y", "type": "quantitative", "title": null,
              "axis": {"values": [2020, 2030, 2040, 2050, 2060, 2070, 2080, 2090, 2100], "tickCount": 9, "labelExpr": "(datum.value - 2030) % 30 == 0 ? datum.value : ''", "tickSize": -3, "labelPadding": 7, "labelFontSize": 10.5, "grid": false, "labelOverlap": false}},
        "y": {"field": "m", "type": "quantitative", "title": "Mass (-)",
              "axis": {"values": [0, 0.2, 0.4, 0.6, 0.8, 1], "tickCount": 6, "format": "~g", "ticks": false, "labelPadding": 1, "titlePadding": 1, "labelFontSize": 11, "labelOverlap": false, "grid": true, "gridDash": [4, 3], "gridColor": "#d8d8d8"}},
        "color": {"field": "s", "type": "nominal", "scale": {"domain": ["RCP2.6 (46, 4)", "RCP4.5 (64, 4)", "RCP8.5 (88, 6)"], "range": ["#0000ff", "#2f8a2f", "#ff0000"]},
                  "legend": {"orient": "none", "legendX": 10, "legendY": 44, "title": null, "symbolType": "stroke", "symbolStrokeWidth": 3, "symbolSize": 150, "labelFontSize": 10.5, "rowPadding": 0, "labelOffset": 2, "padding": 0}}
      }
    }
  ]
},
"config": {
  "font": "Liberation Sans",
  "view": {"stroke": "#808080", "strokeWidth": 1},
  "axis": {"labelColor": "#333", "titleFontSize": 10.5, "titleFontWeight": "normal", "titleColor": "#333", "domain": false, "tickColor": "#666", "grid": false},
  "legend": {"labelColor": "#111"}
}
}
